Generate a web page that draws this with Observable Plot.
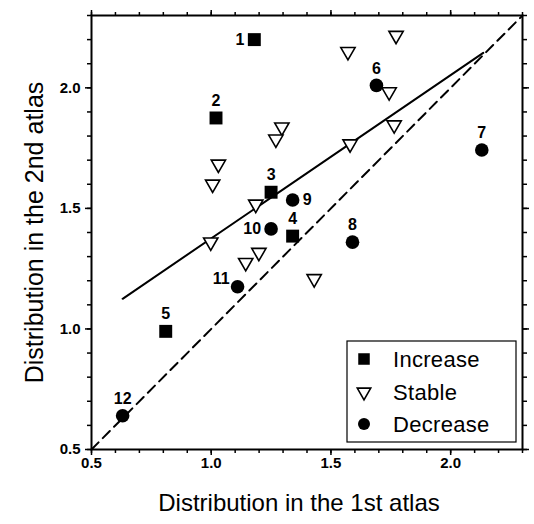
<!DOCTYPE html>
<html><head><meta charset="utf-8">
<script src="https://cdn.jsdelivr.net/npm/d3@7"></script>
<script src="https://cdn.jsdelivr.net/npm/@observablehq/plot@0.6"></script>
<style>
body{margin:0;background:#fff;}
#chart{width:534px;height:524px;}
</style></head><body><div id="chart"></div>
<script>
// ---- data ----
const increaseX = [1.18, 1.02, 1.25, 1.34, 0.81];
const increaseY = [2.20, 1.875, 1.567, 1.385, 0.99];
const increaseLabels = ["1", "2", "3", "4", "5"];

const decreaseX = [1.69, 2.13, 1.59, 1.34, 1.25, 1.11, 0.63];
const decreaseY = [2.01, 1.742, 1.36, 1.535, 1.415, 1.175, 0.64];
const decreaseLabels = ["6", "7", "8", "9", "10", "11", "12"];

const stableX = [1.03, 1.006, 1.186, 0.998, 1.144, 1.199, 1.772, 1.571, 1.743, 1.295, 1.27, 1.764, 1.58, 1.43];
const stableY = [1.683, 1.60, 1.517, 1.36, 1.275, 1.317, 2.217, 2.15, 1.983, 1.837, 1.787, 1.846, 1.767, 1.208];

const fitX = [0.63, 2.136];
const fitY = [1.125, 2.145];
const identity = [0.5, 2.3];

const majorTicks = [0.5, 1.0, 1.5, 2.0];
const minorTicks = [0.5, 0.6, 0.7, 0.8, 0.9, 1.0, 1.1, 1.2, 1.3, 1.4, 1.5, 1.6, 1.7, 1.8, 1.9, 2.0, 2.1, 2.2, 2.3];

const xTitle = "Distribution in the 1st atlas";
const yTitle = "Distribution in the 2nd atlas";
const legendLabels = ["Increase", "Stable", "Decrease"];

// label placement (style only)
const incPlace = ["left", "above", "above", "above", "above"];
const decPlace = ["above", "above", "above", "right", "left", "upleft", "above"];

// ---- build tables ----
const inc = increaseX.map((x, i) => ({x, y: increaseY[i], label: increaseLabels[i], place: incPlace[i]}));
const dec = decreaseX.map((x, i) => ({x, y: decreaseY[i], label: decreaseLabels[i], place: decPlace[i]}));
const stab = stableX.map((x, i) => ({x, y: stableY[i]}));
const fit = fitX.map((x, i) => ({x, y: fitY[i]}));
const diag = identity.map(v => ({x: v, y: v}));
const labels = [...inc, ...dec];

const font = "'Liberation Sans', Arial, sans-serif";
const lab = (place, opts) => Plot.text(labels.filter(d => d.place === place), {
  x: "x", y: "y", text: "label", fontSize: 16, fontWeight: "bold", fill: "#000", ...opts
});

const plot = Plot.plot({
  width: 534, height: 524,
  marginLeft: 91, marginRight: 12, marginTop: 15, marginBottom: 75,
  x: {domain: [0.5, 2.3], label: null},
  y: {domain: [0.5, 2.3], label: null},
  style: {fontFamily: font, color: "#000", background: "#fff", overflow: "visible"},
  marks: [
    Plot.line(diag, {x: "x", y: "y", stroke: "#000", strokeWidth: 2, strokeDasharray: "10,6"}),
    Plot.line(fit, {x: "x", y: "y", stroke: "#000", strokeWidth: 2}),
    Plot.dot(stab, {x: "x", y: "y", symbol: "triangle", rotate: 180, r: 5.3, stroke: "#000", fill: "#fff", strokeWidth: 1.6}),
    Plot.dot(inc, {x: "x", y: "y", symbol: "square", r: 7.3, fill: "#000"}),
    Plot.dot(dec, {x: "x", y: "y", symbol: "circle", r: 6.8, fill: "#000"}),
    lab("above", {dy: -17}),
    lab("left", {textAnchor: "end", dx: -10}),
    lab("right", {textAnchor: "start", dx: 10}),
    lab("upleft", {textAnchor: "end", dx: -8, dy: -8}),
    Plot.axisX(majorTicks, {anchor: "bottom", tickSize: 6, tickPadding: 2, fontSize: 15, fontWeight: "bold", tickFormat: d3.format(".1f"), strokeWidth: 1.5, label: null}),
    Plot.axisX(minorTicks, {anchor: "bottom", tickSize: 4, tickFormat: () => "", strokeWidth: 1.5, label: null}),
    Plot.axisX(majorTicks, {anchor: "top", tickSize: 6, tickFormat: () => "", strokeWidth: 1.5, label: null}),
    Plot.axisX(minorTicks, {anchor: "top", tickSize: 4, tickFormat: () => "", strokeWidth: 1.5, label: null}),
    Plot.axisY(majorTicks, {anchor: "left", tickSize: 6, tickPadding: 5, fontSize: 15, fontWeight: "bold", tickFormat: d3.format(".1f"), strokeWidth: 1.5, label: null}),
    Plot.axisY(minorTicks, {anchor: "left", tickSize: 4, tickFormat: () => "", strokeWidth: 1.5, label: null}),
    Plot.axisY(majorTicks, {anchor: "right", tickSize: 6, tickFormat: () => "", strokeWidth: 1.5, label: null}),
    Plot.axisY(minorTicks, {anchor: "right", tickSize: 4, tickFormat: () => "", strokeWidth: 1.5, label: null}),
    Plot.frame({stroke: "#000", strokeWidth: 2}),
    Plot.text([xTitle], {text: d => d, frameAnchor: "bottom", textAnchor: "middle", dx: -8, dy: 61, fontSize: 24, fill: "#000", letterSpacing: "1px"}),
    Plot.text([yTitle], {text: d => d, frameAnchor: "left", textAnchor: "middle", lineAnchor: "middle", rotate: -90, dx: -57, fontSize: 25, fill: "#000", letterSpacing: "1px"})
  ]
});

// legend box inside the frame (bottom-right)
const svg = d3.select(plot);
const g = svg.append("g").attr("font-family", font).attr("text-anchor", "start");
g.append("rect").attr("x", 347).attr("y", 341).attr("width", 169).attr("height", 101)
  .attr("fill", "#fff").attr("stroke", "#000").attr("stroke-width", 1.2);
const symbols = [
  {type: d3.symbolSquare, size: Math.PI * 6.5 * 6.5, fill: "#000", stroke: "none", rot: 0},
  {type: d3.symbolTriangle, size: Math.PI * 5 * 5, fill: "#fff", stroke: "#000", rot: 180},
  {type: d3.symbolCircle, size: Math.PI * 6 * 6, fill: "#000", stroke: "none", rot: 0}
];
const rowY = [359, 392, 424];
legendLabels.forEach((t, i) => {
  const s = symbols[i];
  g.append("path").attr("d", d3.symbol(s.type, s.size)())
    .attr("transform", `translate(364,${rowY[i]}) rotate(${s.rot})`)
    .attr("fill", s.fill).attr("stroke", s.stroke).attr("stroke-width", 1.6);
  g.append("text").attr("x", 393).attr("y", rowY[i]).attr("dy", "0.36em")
    .attr("font-size", 22).attr("letter-spacing", "0.3px").attr("fill", "#000")
    .attr("text-anchor", "start").text(t);
});

document.getElementById("chart").appendChild(plot);
</script>
</body></html>
